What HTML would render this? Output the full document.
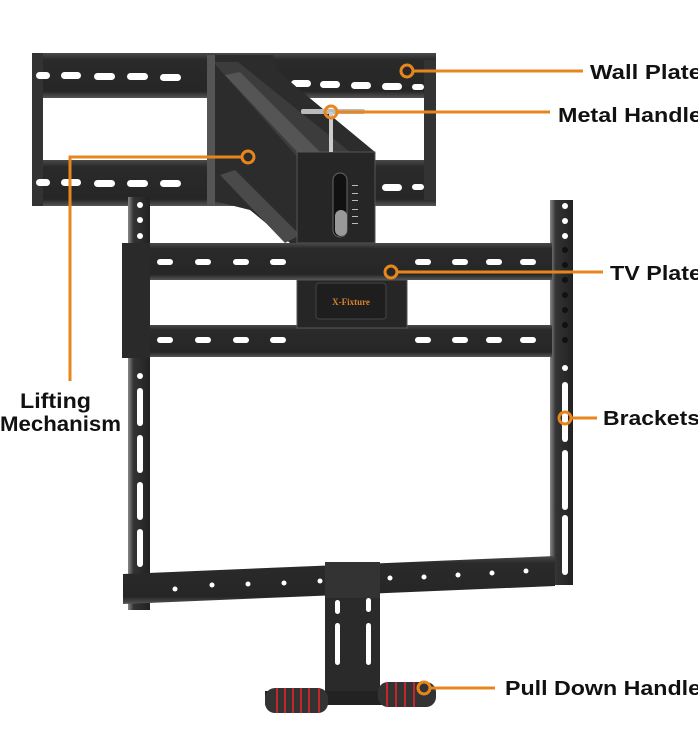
<!DOCTYPE html>
<html><head><meta charset="utf-8"><style>
html,body{margin:0;padding:0;background:#fff;}
svg{display:block}
text{font-family:"Liberation Sans",sans-serif;font-weight:bold;fill:#111}
</style></head><body>
<svg width="698" height="750" viewBox="0 0 698 750" xmlns="http://www.w3.org/2000/svg">
<defs>
<linearGradient id="bar" x1="0" y1="0" x2="0" y2="1">
<stop offset="0" stop-color="#4a4a4a"/><stop offset="0.15" stop-color="#2a2a2a"/><stop offset="0.85" stop-color="#262626"/><stop offset="1" stop-color="#555"/></linearGradient>
<linearGradient id="vb" x1="0" y1="0" x2="1" y2="0">
<stop offset="0" stop-color="#888"/><stop offset="0.25" stop-color="#333"/><stop offset="1" stop-color="#222"/></linearGradient>
</defs>
<rect x="32" y="53" width="404" height="45" fill="url(#bar)"/>
<rect x="32" y="160" width="404" height="46" fill="url(#bar)"/>
<rect x="32" y="53" width="11" height="153" fill="#333"/>
<rect x="424" y="60" width="12" height="140" fill="#333"/>
<g fill="#fff">
<rect x="36" y="72" width="14" height="7" rx="3.5"/><rect x="61" y="72" width="20" height="7" rx="3.5"/><rect x="94" y="73" width="21" height="7" rx="3.5"/><rect x="127" y="73" width="21" height="7" rx="3.5"/><rect x="160" y="74" width="21" height="7" rx="3.5"/>
<rect x="291" y="80" width="20" height="7" rx="3.5"/><rect x="320" y="81" width="20" height="7" rx="3.5"/><rect x="351" y="82" width="20" height="7" rx="3.5"/><rect x="382" y="83" width="20" height="7" rx="3.5"/><rect x="412" y="84" width="12" height="6" rx="3"/>
<rect x="36" y="179" width="14" height="7" rx="3.5"/><rect x="61" y="179" width="20" height="7" rx="3.5"/><rect x="94" y="180" width="21" height="7" rx="3.5"/><rect x="127" y="180" width="21" height="7" rx="3.5"/><rect x="160" y="180" width="21" height="7" rx="3.5"/>
<rect x="382" y="184" width="20" height="7" rx="3.5"/><rect x="412" y="184" width="12" height="6" rx="3"/>
</g>
<polygon points="207,55 273,55 277,70 300,90 375,152 375,243 290,243 250,210 210,200" fill="#2c2c2c"/>
<polygon points="213,62 238,62 360,160 300,160" fill="#3c3c3c"/>
<polygon points="225,75 240,72 320,152 300,155" fill="#555"/>
<polygon points="220,175 235,170 300,235 285,243" fill="#4a4a4a"/>
<rect x="207" y="55" width="8" height="150" fill="#555"/>
<rect x="297" y="152" width="78" height="91" fill="#262626" stroke="#555"/>
<rect x="333" y="173" width="14" height="64" rx="7" fill="#111" stroke="#666"/>
<rect x="335" y="210" width="12" height="26" rx="6" fill="#999"/>
<g fill="#bbb"><rect x="352" y="185" width="6" height="1"/><rect x="352" y="193" width="6" height="1"/><rect x="352" y="200" width="6" height="1"/><rect x="352" y="209" width="6" height="1"/><rect x="352" y="216" width="6" height="1"/><rect x="352" y="223" width="6" height="1"/></g>
<rect x="301" y="109" width="64" height="5" rx="2" fill="#bbb"/>
<rect x="329" y="112" width="4" height="40" fill="#ccc"/>
<rect x="128" y="197" width="22" height="413" fill="url(#vb)"/>
<rect x="550" y="200" width="23" height="385" fill="url(#vb)"/>
<g fill="#fff">
<circle cx="140" cy="205" r="3"/><circle cx="140" cy="220" r="3"/><circle cx="140" cy="236" r="3"/><circle cx="140" cy="376" r="3"/>
<rect x="137" y="388" width="6" height="38" rx="3"/><rect x="137" y="435" width="6" height="38" rx="3"/><rect x="137" y="482" width="6" height="38" rx="3"/><rect x="137" y="529" width="6" height="38" rx="3"/>
<circle cx="565" cy="206" r="3"/><circle cx="565" cy="221" r="3"/><circle cx="565" cy="236" r="3"/><circle cx="565" cy="368" r="3"/>
<rect x="562" y="382" width="6" height="60" rx="3"/><rect x="562" y="450" width="6" height="60" rx="3"/><rect x="562" y="515" width="6" height="60" rx="3"/>
</g>
<g fill="#111"><circle cx="140" cy="260" r="3"/><circle cx="140" cy="276" r="3"/><circle cx="140" cy="292" r="3"/><circle cx="140" cy="308" r="3"/><circle cx="140" cy="324" r="3"/><circle cx="140" cy="340" r="3"/>
<circle cx="565" cy="250" r="3"/><circle cx="565" cy="265" r="3"/><circle cx="565" cy="280" r="3"/><circle cx="565" cy="295" r="3"/><circle cx="565" cy="310" r="3"/><circle cx="565" cy="325" r="3"/><circle cx="565" cy="340" r="3"/></g>
<rect x="122" y="243" width="430" height="37" fill="url(#bar)"/>
<rect x="122" y="325" width="430" height="32" fill="url(#bar)"/>
<rect x="122" y="243" width="28" height="115" fill="#2a2a2a"/>
<rect x="297" y="280" width="110" height="48" fill="#262626" stroke="#555"/>
<rect x="316" y="283" width="70" height="36" rx="3" fill="#1e1e1e" stroke="#444"/>
<text x="351" y="305" font-size="9" text-anchor="middle" style="fill:#d9822b;font-family:'Liberation Serif',serif">X-Fixture</text>
<g fill="#fff">
<rect x="157" y="259" width="16" height="6" rx="3"/><rect x="195" y="259" width="16" height="6" rx="3"/><rect x="233" y="259" width="16" height="6" rx="3"/><rect x="270" y="259" width="16" height="6" rx="3"/><rect x="415" y="259" width="16" height="6" rx="3"/><rect x="452" y="259" width="16" height="6" rx="3"/><rect x="486" y="259" width="16" height="6" rx="3"/><rect x="520" y="259" width="16" height="6" rx="3"/>
<rect x="157" y="337" width="16" height="6" rx="3"/><rect x="195" y="337" width="16" height="6" rx="3"/><rect x="233" y="337" width="16" height="6" rx="3"/><rect x="270" y="337" width="16" height="6" rx="3"/><rect x="415" y="337" width="16" height="6" rx="3"/><rect x="452" y="337" width="16" height="6" rx="3"/><rect x="486" y="337" width="16" height="6" rx="3"/><rect x="520" y="337" width="16" height="6" rx="3"/>
</g>
<polygon points="123,574 555,556 555,586 123,604" fill="url(#bar)"/>
<rect x="325" y="562" width="55" height="36" fill="#333"/>
<g fill="#fff"><circle cx="175" cy="589" r="2.5"/><circle cx="212" cy="585" r="2.5"/><circle cx="248" cy="584" r="2.5"/><circle cx="284" cy="583" r="2.5"/><circle cx="320" cy="581" r="2.5"/><circle cx="390" cy="578" r="2.5"/><circle cx="424" cy="577" r="2.5"/><circle cx="458" cy="575" r="2.5"/><circle cx="492" cy="573" r="2.5"/><circle cx="526" cy="571" r="2.5"/></g>
<rect x="325" y="598" width="55" height="95" fill="#2a2a2a"/>
<g fill="#fff"><rect x="335" y="600" width="5" height="14" rx="2.5"/><rect x="366" y="598" width="5" height="14" rx="2.5"/><rect x="335" y="623" width="5" height="42" rx="2.5"/><rect x="366" y="623" width="5" height="42" rx="2.5"/></g>
<rect x="265" y="691" width="165" height="14" fill="#222"/>
<rect x="265" y="688" width="63" height="25" rx="10" fill="#333"/>
<rect x="378" y="682" width="58" height="25" rx="10" fill="#333"/>
<g stroke="#c0282e" stroke-width="2"><line x1="277" y1="688" x2="277" y2="713"/><line x1="285" y1="688" x2="285" y2="713"/><line x1="293" y1="688" x2="293" y2="713"/><line x1="301" y1="688" x2="301" y2="713"/><line x1="309" y1="688" x2="309" y2="713"/><line x1="319" y1="688" x2="319" y2="713"/>
<line x1="387" y1="682" x2="387" y2="707"/><line x1="396" y1="682" x2="396" y2="707"/><line x1="405" y1="682" x2="405" y2="707"/><line x1="414" y1="682" x2="414" y2="707"/></g>
<g stroke="#e8861e" stroke-width="3" fill="none">
<line x1="413" y1="71" x2="583" y2="71"/><circle cx="407" cy="71" r="6"/>
<line x1="337" y1="112" x2="550" y2="112"/><circle cx="331" cy="112" r="6"/>
<polyline points="242,157 70,157 70,381"/><circle cx="248" cy="157" r="6"/>
<line x1="397" y1="272" x2="603" y2="272"/><circle cx="391" cy="272" r="6"/>
<line x1="571" y1="418" x2="597" y2="418"/><circle cx="565" cy="418" r="6"/>
<line x1="430" y1="688" x2="495" y2="688"/><circle cx="424" cy="688" r="6"/>
</g>
<text x="590" y="79" font-size="20" textLength="112" lengthAdjust="spacingAndGlyphs">Wall Plate</text>
<text x="558" y="122" font-size="20" textLength="144" lengthAdjust="spacingAndGlyphs">Metal Handle</text>
<text x="610" y="280" font-size="20" textLength="92" lengthAdjust="spacingAndGlyphs">TV Plate</text>
<text x="603" y="425" font-size="20" textLength="97" lengthAdjust="spacingAndGlyphs">Brackets</text>
<text x="505" y="695" font-size="20" textLength="196" lengthAdjust="spacingAndGlyphs">Pull Down Handle</text>
<text x="20" y="408" font-size="21" textLength="71" lengthAdjust="spacingAndGlyphs">Lifting</text>
<text x="0" y="431" font-size="21" textLength="121" lengthAdjust="spacingAndGlyphs">Mechanism</text>
</svg>
</body></html>
